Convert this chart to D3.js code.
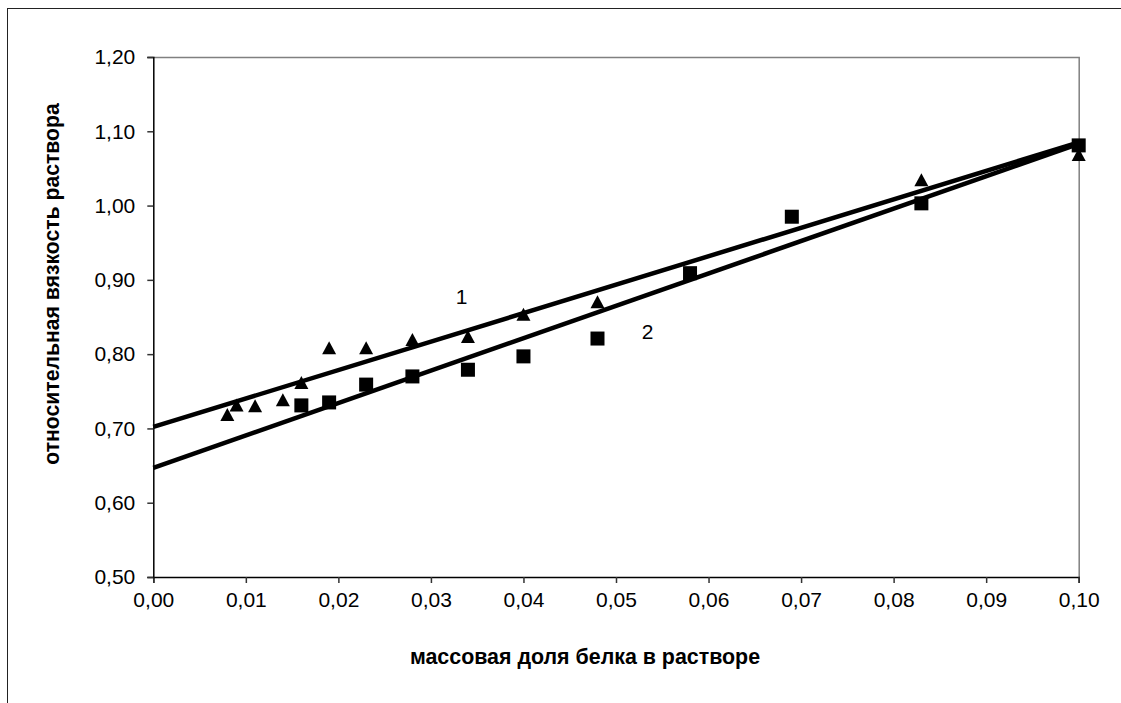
<!DOCTYPE html>
<html>
  <head>
    <meta charset="utf-8">
    <title>Вязкость раствора</title>
    <script type="text/javascript" src="https://cdn.jsdelivr.net/npm/d3@7"></script>
    <style type='text/css'>
      body { margin: 0; background: #fff; }
      text { font-family: 'Liberation Sans', Arial, sans-serif; }
    </style>
  </head>
  <body>
    <script type="text/javascript">
      var w = 1121;
      var h = 703;

      // серия 1 (треугольники)
      var x1 = [0.008, 0.009, 0.011, 0.014, 0.016, 0.019, 0.023, 0.028, 0.034, 0.040, 0.048, 0.083, 0.100];
      var y1 = [0.718, 0.731, 0.730, 0.738, 0.761, 0.808, 0.808, 0.819, 0.823, 0.853, 0.870, 1.034, 1.068];
      // серия 2 (квадраты)
      var x2 = [0.016, 0.019, 0.023, 0.028, 0.034, 0.040, 0.048, 0.058, 0.069, 0.083, 0.100];
      var y2 = [0.731, 0.735, 0.759, 0.770, 0.779, 0.797, 0.821, 0.909, 0.985, 1.003, 1.081];
      // линии тренда: значения при x = 0 и x = 0,10
      var trendX = [0, 0.1];
      var trend1 = [0.702, 1.085];
      var trend2 = [0.647, 1.083];

      var xTicks = [0, 0.01, 0.02, 0.03, 0.04, 0.05, 0.06, 0.07, 0.08, 0.09, 0.10];
      var yTicks = [0.5, 0.6, 0.7, 0.8, 0.9, 1.0, 1.1, 1.2];

      var xTitle = 'массовая доля белка в растворе';
      var yTitle = 'относительная вязкость раствора';

      var fmt = function(d, n) { return d.toFixed(n).replace('.', ','); };

      var svg = d3.select('body')
                  .append('svg')
                  .attr('width', w)
                  .attr('height', h);

      // внешняя рамка
      svg.append('rect')
        .attr('x', 7.5).attr('y', 8.5)
        .attr('width', 1130).attr('height', 720)
        .attr('fill', 'none')
        .attr('stroke', '#222');

      var pLeft = 153.3, pRight = 1078.7, pTop = 57, pBottom = 577;

      var x = d3.scaleLinear().domain([0, 0.1]).range([pLeft, pRight]);
      var y = d3.scaleLinear().domain([0.5, 1.2]).range([pBottom, pTop]);

      // рамка области построения
      svg.append('path')
        .attr('d', 'M' + pLeft + ',' + (pTop + 0.5) + 'H' + (pRight + 0.5) + 'V' + pBottom)
        .attr('fill', 'none')
        .attr('stroke', '#808080')
        .attr('stroke-width', 1.5);

      var xAxis = svg.append('g')
        .attr('transform', 'translate(0,' + pBottom + ')')
        .call(d3.axisBottom(x).tickValues(xTicks).tickSize(6).tickPadding(9).tickFormat(function(d) { return fmt(d, 2); }));

      var yAxis = svg.append('g')
        .attr('transform', 'translate(' + pLeft + ',0)')
        .call(d3.axisLeft(y).tickValues(yTicks).tickSize(6).tickPadding(12).tickFormat(function(d) { return fmt(d, 2); }));

      [xAxis, yAxis].forEach(function(a) {
        a.select('.domain').attr('stroke', '#000').attr('stroke-width', 1.5);
        a.selectAll('.tick line').attr('stroke', '#333').attr('stroke-width', 1.5);
        a.selectAll('.tick text')
          .attr('font-family', "'Liberation Sans', Arial, sans-serif")
          .attr('font-size', '21px')
          .attr('fill', '#000');
      });

      // линии тренда
      var line = d3.line()
        .x(function(d) { return x(d[0]); })
        .y(function(d) { return y(d[1]); });

      [trend1, trend2].forEach(function(t) {
        svg.append('path')
          .datum(trendX.map(function(v, i) { return [v, t[i]]; }))
          .attr('d', line)
          .attr('fill', 'none')
          .attr('stroke', '#000')
          .attr('stroke-width', 4.5);
      });

      // точки
      svg.selectAll('path.tri')
        .data(x1.map(function(v, i) { return [v, y1[i]]; }))
        .enter()
        .append('path')
        .attr('class', 'tri')
        .attr('d', 'M0,-7L7,6L-7,6Z')
        .attr('transform', function(d) { return 'translate(' + x(d[0]) + ',' + y(d[1]) + ')'; })
        .attr('fill', '#000');

      svg.selectAll('rect.sq')
        .data(x2.map(function(v, i) { return [v, y2[i]]; }))
        .enter()
        .append('rect')
        .attr('class', 'sq')
        .attr('x', function(d) { return x(d[0]) - 7; })
        .attr('y', function(d) { return y(d[1]) - 7; })
        .attr('width', 14)
        .attr('height', 14)
        .attr('fill', '#000');

      // номера кривых
      svg.append('text').text('1')
        .attr('x', 461.5).attr('y', 304)
        .attr('font-size', '21px').attr('text-anchor', 'middle');
      svg.append('text').text('2')
        .attr('x', 647.5).attr('y', 339)
        .attr('font-size', '21px').attr('text-anchor', 'middle');

      // подписи осей
      svg.append('text').text(xTitle)
        .attr('x', 585).attr('y', 664)
        .attr('font-size', '21.4px').attr('font-weight', 'bold')
        .attr('text-anchor', 'middle');

      svg.append('text').text(yTitle)
        .attr('transform', 'translate(59,284) rotate(-90)')
        .attr('font-size', '21.2px').attr('font-weight', 'bold')
        .attr('text-anchor', 'middle');
    </script>
  </body>
</html>
